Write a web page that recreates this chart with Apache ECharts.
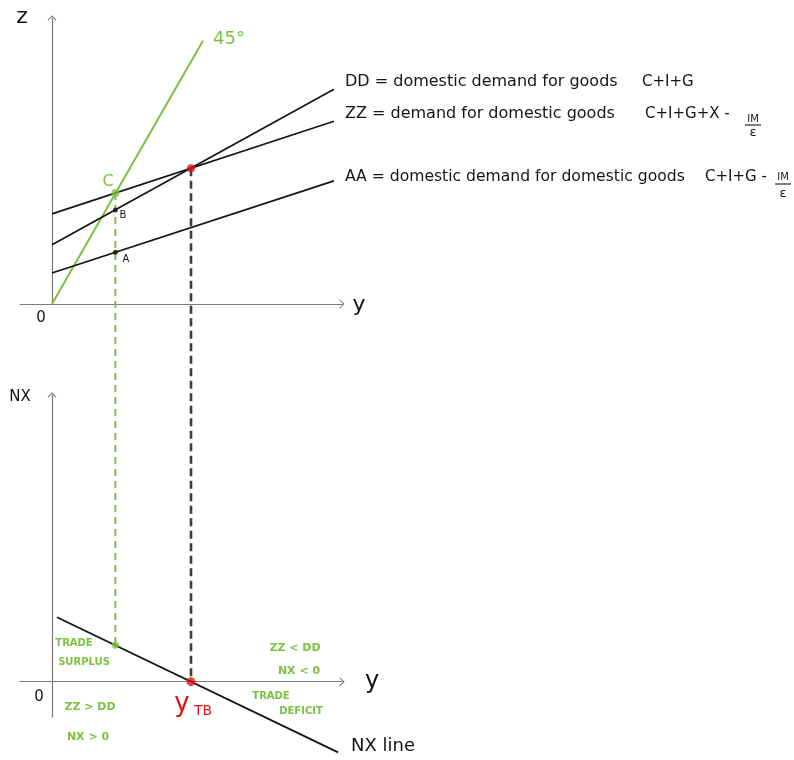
<!DOCTYPE html>
<html>
<head>
<meta charset="utf-8">
<script src="https://cdn.jsdelivr.net/npm/echarts@6/dist/echarts.min.js"></script>
<style>
  html, body { margin: 0; padding: 0; background: #fff; }
  #chart { width: 794px; height: 760px; }
</style>
</head>
<body>
<div id="chart"></div>
<script>
// Axis extents (output y is shared by both panels)
const yRange = [-1.15, 10.43];
const zRange = [0, 5.9];
const nxRange = [-0.34, 2.76];

// Upper panel: demand schedules against output
const line45 = [[0, 0], [5.43, 5.43]];
const ddLine = [[0, 1.22], [10.14, 4.43]];
const zzLine = [[0, 1.86], [10.14, 3.77]];
const aaLine = [[0, 0.64], [10.14, 2.54]];

// Marked points on the upper panel
const pointC = [2.28, 2.29];
const pointB = [2.28, 1.94];
const pointA = [2.28, 1.07];
const balancePoint = [5.0, 2.80];

// Lower panel: net exports against output
const nxLine = [[0.18, 0.62], [10.29, -0.68]];
const nxAtC = [2.28, 0.35];
const yTB = [5.0, 0];

const GREEN = '#7cc242';
const RED = '#e01414';
const INK = '#141414';
const AXIS = '#7a7a7a';
const FONT = 'DejaVu Sans';

// open chevron used as the axis arrow head
const arrowHead = 'path://M5,0 L10,5.3 L9.1,6 L5,1.7 L0.9,6 L0,5.3 Z';

function axisX(gridIndex) {
  return {
    gridIndex, type: 'value', min: yRange[0], max: yRange[1],
    axisLine: { onZero: true, symbol: ['none', arrowHead], symbolSize: [9, 6],
      lineStyle: { color: AXIS, width: 1.2 } },
    axisTick: { show: false }, axisLabel: { show: false }, splitLine: { show: false }
  };
}
function axisY(gridIndex, range) {
  return {
    gridIndex, type: 'value', min: range[0], max: range[1],
    axisLine: { onZero: true, symbol: ['none', arrowHead], symbolSize: [9, 6],
      lineStyle: { color: AXIS, width: 1.2 } },
    axisTick: { show: false }, axisLabel: { show: false }, splitLine: { show: false }
  };
}
function segment(data, gridIndex, color, width) {
  return {
    type: 'line', xAxisIndex: gridIndex, yAxisIndex: gridIndex, data,
    showSymbol: false, symbol: 'none', silent: true, clip: false,
    lineStyle: { color, width }, z: 3
  };
}
function dot(value, color, size) {
  return { value, symbolSize: size, itemStyle: { color } };
}

const chart = echarts.init(document.getElementById('chart'), null, { renderer: 'canvas' });

chart.setOption({
  animation: false,
  backgroundColor: '#fff',
  grid: [
    { left: 20, top: 18, width: 322, height: 286 },
    { left: 20, top: 395, width: 322, height: 322 }
  ],
  xAxis: [axisX(0), axisX(1)],
  yAxis: [axisY(0, zRange), axisY(1, nxRange)],
  series: [
    segment(line45, 0, GREEN, 2),
    segment(ddLine, 0, INK, 1.7),
    segment(zzLine, 0, INK, 1.7),
    segment(aaLine, 0, INK, 1.7),
    segment(nxLine, 1, INK, 1.8),
    {
      type: 'scatter', xAxisIndex: 0, yAxisIndex: 0, z: 5, silent: true,
      data: [
        dot(pointC, GREEN, 8),
        dot(pointB, INK, 5),
        dot(pointA, INK, 5),
        dot(balancePoint, RED, 8)
      ]
    },
    {
      type: 'scatter', xAxisIndex: 1, yAxisIndex: 1, z: 5, silent: true,
      data: [
        dot(nxAtC, GREEN, 7),
        dot(yTB, RED, 9)
      ]
    }
  ]
});

// Vertical guides that run from the upper panel down to the NX line
const cTop = chart.convertToPixel({ gridIndex: 0 }, pointC);
const cBot = chart.convertToPixel({ gridIndex: 1 }, nxAtC);
const eTop = chart.convertToPixel({ gridIndex: 0 }, balancePoint);
const eBot = chart.convertToPixel({ gridIndex: 1 }, yTB);

function txt(text, x, y, size, color, extra) {
  return {
    type: 'text', x, y, z: 10, silent: true,
    style: Object.assign({
      text, fill: color || INK, fontSize: size, fontFamily: FONT,
      align: 'left', verticalAlign: 'middle'
    }, extra || {})
  };
}
function ctxt(text, x, y, size, color) {
  return txt(text, x, y, size, color, { align: 'center' });
}
function note(text, x, y, size) {
  return txt(text, x, y, size, GREEN, { align: 'center', fontWeight: 'bold' });
}
function bar(x1, x2, y) {
  return { type: 'line', z: 10, silent: true, shape: { x1, y1: y, x2, y2: y },
    style: { stroke: INK, lineWidth: 1.1 } };
}

chart.setOption({
  graphic: [
    { type: 'line', z: 1, silent: true,
      shape: { x1: cTop[0], y1: cTop[1], x2: cBot[0], y2: cBot[1] },
      style: { stroke: GREEN, lineWidth: 2, lineDash: [7, 5] } },
    { type: 'line', z: 1, silent: true,
      shape: { x1: eTop[0], y1: eTop[1], x2: eBot[0], y2: eBot[1] },
      style: { stroke: '#3c3c3c', lineWidth: 2.6, lineDash: [8, 4.5] } },

    // axis names
    ctxt('z', 22, 17, 22),
    ctxt('y', 359, 305, 22),
    ctxt('0', 41, 318, 15),
    ctxt('NX', 20, 397, 15),
    ctxt('y', 372, 682, 24),
    ctxt('0', 39, 697, 15),

    // upper panel markers
    ctxt('45°', 229, 39, 18, GREEN),
    ctxt('C', 108, 182, 16, GREEN),
    ctxt('B', 123, 215, 10),
    ctxt('A', 126, 259, 10),

    // schedule legends
    txt('DD = domestic demand for goods', 345, 82, 16),
    txt('C+I+G', 642, 82, 15),
    txt('ZZ = demand for domestic goods', 345, 114, 16),
    txt('C+I+G+X -', 645, 114, 15),
    ctxt('IM', 753, 119, 10),
    bar(745, 761, 125),
    ctxt('ε', 753, 133, 13),
    txt('AA = domestic demand for domestic goods', 345, 177, 15.6),
    txt('C+I+G -', 705, 177, 15),
    ctxt('IM', 783, 177, 10),
    bar(775, 791, 184),
    ctxt('ε', 783, 194, 13),

    // lower panel annotations
    note('TRADE', 74, 643, 10),
    note('SURPLUS', 84, 662, 10),
    note('ZZ > DD', 90, 707, 11),
    note('NX > 0', 88, 737, 11),
    note('ZZ < DD', 295, 648, 11),
    note('NX < 0', 299, 671, 11),
    note('TRADE', 271, 696, 10),
    note('DEFICIT', 301, 711, 10),
    ctxt('y', 182, 704, 26, RED),
    ctxt('TB', 203, 711, 14, RED),
    ctxt('NX line', 383, 746, 18)
  ]
});
</script>
</body>
</html>
